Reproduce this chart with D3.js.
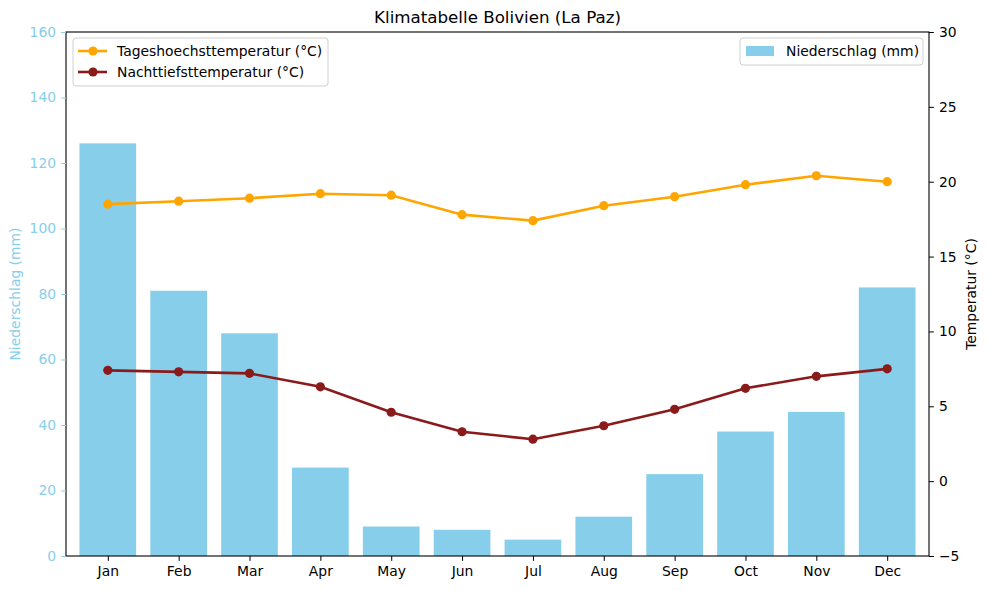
<html>
<head>
<script src="https://d3js.org/d3.v7.min.js"></script>
<style>
  body { margin: 0; background: white; }
  text { font-family: "DejaVu Sans", sans-serif; }
</style>
</head>
<body>
<svg id="chart" width="989" height="590"></svg>
<script>
// data
const months = ["Jan","Feb","Mar","Apr","May","Jun","Jul","Aug","Sep","Oct","Nov","Dec"];
const rain = [126, 81, 68, 27, 9, 8, 5, 12, 25, 38, 44, 82];
const tMax = [18.5, 18.7, 18.9, 19.2, 19.1, 17.8, 17.4, 18.4, 19.0, 19.8, 20.4, 20.0];
const tMin = [7.4, 7.3, 7.2, 6.3, 4.6, 3.3, 2.8, 3.7, 4.8, 6.2, 7.0, 7.5];
const rainTicks = [0, 20, 40, 60, 80, 100, 120, 140, 160];
const tempTicks = [-5, 0, 5, 10, 15, 20, 25, 30];

const svg = d3.select("#chart");
const m = { left: 66, right: 929, top: 32, bottom: 556 };
const blue = "#87ceeb", orange = "#ffa500", red = "#8b1a1a";
const fs = 13.9;

const x = d3.scaleLinear().domain([-0.59, 11.59]).range([m.left, m.right]);
const yRain = d3.scaleLinear().domain([0, 160]).range([m.bottom, m.top]);
const yTemp = d3.scaleLinear().domain([-5, 30]).range([m.bottom, m.top]);
const bw = x(0.8) - x(0);

// bars
svg.selectAll("rect.bar").data(rain).join("rect")
  .attr("class", "bar")
  .attr("x", (d, i) => x(i) - bw / 2)
  .attr("width", bw)
  .attr("y", d => yRain(d))
  .attr("height", d => yRain(0) - yRain(d))
  .attr("fill", blue);

// lines
const line = d3.line().x((d, i) => x(i)).y(d => yTemp(d));
[[tMax, orange], [tMin, red]].forEach(([vals, col]) => {
  svg.append("path").datum(vals)
    .attr("d", line).attr("fill", "none")
    .attr("stroke", col).attr("stroke-width", 2.6);
  svg.selectAll(null).data(vals).join("circle")
    .attr("cx", (d, i) => x(i)).attr("cy", d => yTemp(d))
    .attr("r", 4.6).attr("fill", col);
});

// frame
svg.append("rect")
  .attr("x", m.left).attr("y", m.top)
  .attr("width", m.right - m.left).attr("height", m.bottom - m.top)
  .attr("fill", "none").attr("stroke", "black").attr("stroke-width", 1.1);

// axes
const ax = svg.append("g").attr("transform", `translate(0,${m.bottom})`)
  .call(d3.axisBottom(x).tickValues(d3.range(12)).tickFormat(i => months[i]).tickSize(4.9).tickPadding(5));
const ayl = svg.append("g").attr("transform", `translate(${m.left},0)`)
  .call(d3.axisLeft(yRain).tickValues(rainTicks).tickSize(4.9).tickPadding(5));
const ayr = svg.append("g").attr("transform", `translate(${m.right},0)`)
  .call(d3.axisRight(yTemp).tickValues(tempTicks).tickSize(4.9).tickPadding(5));
[ax, ayl, ayr].forEach(g => {
  g.select(".domain").remove();
  g.selectAll("text").attr("font-size", fs).attr("font-family", "DejaVu Sans").attr("fill", "black");
  g.selectAll("line").attr("stroke", "black");
});
ayl.selectAll("text").attr("fill", blue);
ayl.selectAll("line").attr("stroke", blue);

// titles
svg.append("text").attr("x", (m.left + m.right) / 2).attr("y", 23)
  .attr("text-anchor", "middle").attr("font-size", 16.7).text("Klimatabelle Bolivien (La Paz)");
svg.append("text").attr("transform", `translate(20,${(m.top + m.bottom) / 2}) rotate(-90)`)
  .attr("text-anchor", "middle").attr("font-size", fs).attr("fill", blue).text("Niederschlag (mm)");
svg.append("text").attr("transform", `translate(976,${(m.top + m.bottom) / 2}) rotate(-90)`)
  .attr("text-anchor", "middle").attr("font-size", fs).text("Temperatur (°C)");

// legend left
const lg = svg.append("g");
lg.append("rect").attr("x", 73).attr("y", 38).attr("width", 255).attr("height", 48).attr("rx", 3)
  .attr("fill", "white").attr("fill-opacity", 0.8).attr("stroke", "#d0d0d0");
[["Tageshoechsttemperatur (°C)", orange], ["Nachttiefsttemperatur (°C)", red]].forEach(([t, c], i) => {
  const yy = 51 + i * 21;
  lg.append("line").attr("x1", 78).attr("x2", 107).attr("y1", yy).attr("y2", yy)
    .attr("stroke", c).attr("stroke-width", 2.6);
  lg.append("circle").attr("cx", 93).attr("cy", yy).attr("r", 4.6).attr("fill", c);
  lg.append("text").attr("x", 117).attr("y", yy + 5).attr("font-size", fs).text(t);
});

// legend right
const rg = svg.append("g");
rg.append("rect").attr("x", 740).attr("y", 38).attr("width", 183).attr("height", 27).attr("rx", 3)
  .attr("fill", "white").attr("fill-opacity", 0.8).attr("stroke", "#d0d0d0");
rg.append("rect").attr("x", 746).attr("y", 46).attr("width", 28).attr("height", 10).attr("fill", blue);
rg.append("text").attr("x", 786).attr("y", 56).attr("font-size", fs).text("Niederschlag (mm)");
</script>
</body>
</html>
